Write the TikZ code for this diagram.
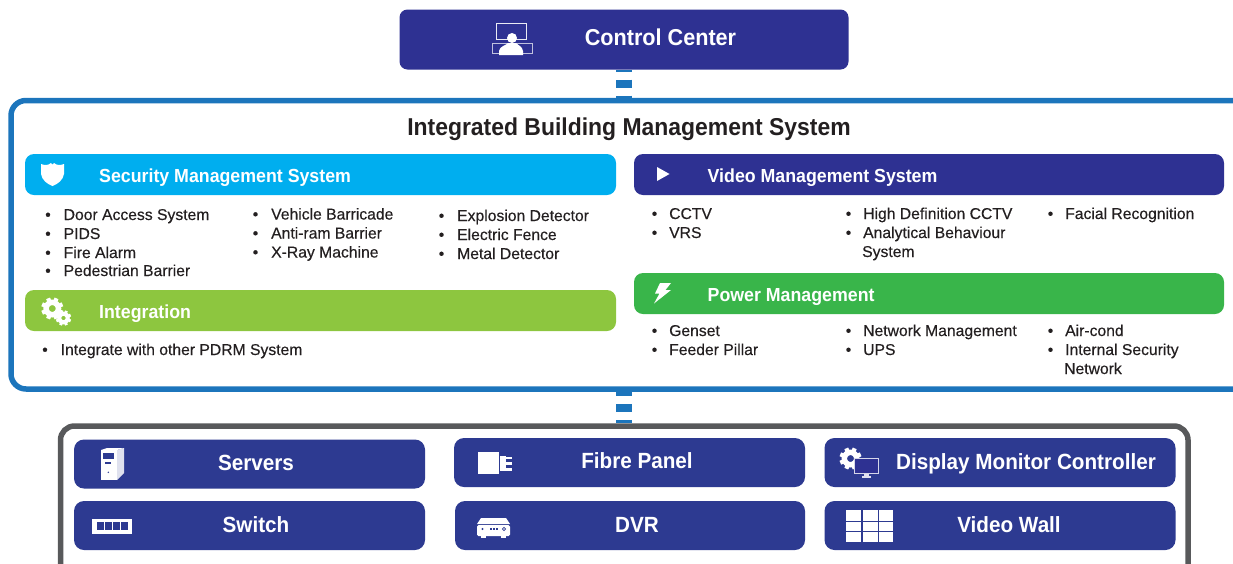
\documentclass[tikz,border=0pt]{standalone}
\usepackage{fontspec}
\setmainfont{Liberation Sans}
\newfontfamily\bodyf[FakeBold=0.35]{Liberation Sans}
\newfontfamily\headf[FakeStretch=0.94]{Liberation Sans Bold}
\definecolor{navy}{HTML}{2E3192}
\definecolor{navyb}{HTML}{2D3A91}
\definecolor{cyanbar}{HTML}{00AEEF}
\definecolor{limebar}{HTML}{8DC63F}
\definecolor{greenbar}{HTML}{39B54A}
\definecolor{ringblue}{HTML}{1C75BC}
\definecolor{ringgrey}{HTML}{58595B}
\definecolor{inkdark}{HTML}{231F20}
\tikzset{
  hbar/.style={rounded corners=9pt,inner sep=0pt,draw=none},
  dbox/.style={rounded corners=10pt,fill=navyb,inner sep=0pt},
  htext/.style={anchor=base west,inner sep=0pt,text=white,font=\headf\fontsize{18.9}{20}\selectfont},
  ctext/.style={anchor=base,inner sep=0pt,text=white,font=\headf\fontsize{22}{24}\selectfont},
  itemt/.style={anchor=base west,inner sep=0pt,text=inkdark,font=\bodyf\fontsize{15.7}{18}\selectfont},
  itemb/.style={anchor=base,inner sep=0pt,text=inkdark,font=\bodyf\fontsize{15.7}{18}\selectfont},
  dashlink/.style={draw=ringblue,line width=16pt,dash pattern=on 8pt off 8pt},
  gearpic/.pic={
    \draw[white,line width=0.55*\gearr pt] (0,0) circle ({0.62*\gearr});
    \foreach \a in {22.5,67.5,...,337.5}
      \draw[white,line width=0.42*\gearr pt] (\a:{0.7*\gearr}) -- (\a:{1.1*\gearr});
  }
}
\newcommand{\bulleted}[5]{%
  \node[itemb] (#1b) at (#2,#4) {•};
  \node[itemt] (#1) at (#3,#4) {#5};}
\begin{document}
\begin{tikzpicture}[x=1pt,y=-1pt]
\useasboundingbox (0,0) rectangle (1233,563);
\clip (0,0) rectangle (1233,563);
% control centre
\node[fill=navy,rounded corners=8pt,minimum width=449pt,minimum height=60pt,inner sep=0pt] (cc) at (624,39.5) {};
\node[anchor=base,inner sep=0pt,text=white,font=\headf\fontsize{23}{25}\selectfont] (cct) at (660.5,45.5) {Control Center};
% ibms frame (runs off the right edge)
\node[draw=ringblue,line width=5.5pt,rounded corners=15pt,minimum width=1260pt,minimum height=288.5pt,inner sep=0pt] (ibms) at (641,244.75) {};
\node[anchor=base,inner sep=0pt,text=inkdark,font=\headf\fontsize{24.4}{26}\selectfont] (ibmst) at (629,135) {Integrated Building Management System};
% hardware frame (runs off the bottom edge)
\node[draw=ringgrey,line width=5.5pt,rounded corners=14pt,minimum width=1127.5pt,minimum height=160pt,inner sep=0pt] (hw) at (624.25,506) {};
% connectors
\draw[dashlink,dash phase=6pt] (cc.south) -- (cc.south |- ibms.north);
\draw[dashlink,dash phase=4pt] (ibms.south -| cc.south) -- (hw.north -| cc.south);
% section bars
\node[hbar,fill=cyanbar,minimum width=591pt,minimum height=41pt] (sec) at (320.5,174.5) {};
\node[htext] (sect) at (99,182) {Security Management System};
\node[hbar,fill=limebar,minimum width=591pt,minimum height=41pt] (integ) at (320.5,310.5) {};
\node[htext] (integt) at (99,318) {Integration};
\node[hbar,fill=navy,minimum width=590pt,minimum height=41pt] (vid) at (929,174.5) {};
\node[htext] (vidt) at (707.5,182) {Video Management System};
\node[hbar,fill=greenbar,minimum width=590pt,minimum height=41pt] (pow) at (929,293.5) {};
\node[htext] (powt) at (707.5,301) {Power Management};
% security lists
\bulleted{a1}{48}{63.5}{220}{Door Access System}
\bulleted{a2}{48}{63.5}{239}{PIDS}
\bulleted{a3}{48}{63.5}{258}{Fire Alarm}
\bulleted{a4}{48}{63.5}{276}{Pedestrian Barrier}
\bulleted{b1}{255.5}{271}{219.5}{Vehicle Barricade}
\bulleted{b2}{255.5}{271}{238.5}{Anti-ram Barrier}
\bulleted{b3}{255.5}{271}{257.5}{X-Ray Machine}
\bulleted{c1}{441.5}{457}{221}{Explosion Detector}
\bulleted{c2}{441.5}{457}{240}{Electric Fence}
\bulleted{c3}{441.5}{457}{259}{Metal Detector}
\bulleted{d1}{45}{60.5}{355}{Integrate with other PDRM System}
% video lists
\bulleted{e1}{654.5}{669}{219}{CCTV}
\bulleted{e2}{654.5}{669}{238}{VRS}
\bulleted{f1}{848.5}{863}{219}{High Definition CCTV}
\bulleted{f2}{848.5}{863}{238}{Analytical Behaviour}
\node[itemt] (f3) at (862,257) {System};
\bulleted{g1}{1050.5}{1065}{219}{Facial Recognition}
% power lists
\bulleted{h1}{654.5}{669}{336}{Genset}
\bulleted{h2}{654.5}{669}{355}{Feeder Pillar}
\bulleted{i1}{848.5}{863}{336}{Network Management}
\bulleted{i2}{848.5}{863}{355}{UPS}
\bulleted{j1}{1050.5}{1065}{336}{Air-cond}
\bulleted{j2}{1050.5}{1065}{355}{Internal Security}
\node[itemt] (j3) at (1064,374) {Network};
% hardware boxes
\node[dbox,minimum width=351pt,minimum height=49pt] (srv) at (249.5,464) {};
\node[ctext] (srvt) at (256,470) {Servers};
\node[dbox,minimum width=351pt,minimum height=49pt] (fib) at (629.5,462.5) {};
\node[ctext] (fibt) at (637,468.5) {Fibre Panel};
\node[dbox,minimum width=351pt,minimum height=49pt] (dmc) at (1000,462.5) {};
\node[ctext] (dmct) at (1026,469.5) {Display Monitor Controller};
\node[dbox,minimum width=351pt,minimum height=49pt] (swi) at (249.5,525.5) {};
\node[ctext] (swit) at (256,532) {Switch};
\node[dbox,minimum width=350pt,minimum height=49pt] (dvr) at (630,525.5) {};
\node[ctext] (dvrt) at (637,532) {DVR};
\node[dbox,minimum width=351pt,minimum height=49pt] (vw) at (1000,525.5) {};
\node[ctext] (vwt) at (1009,532) {Video Wall};
% --- icons ---
% control centre icon
\draw[white!90!navy,line width=1pt] (496.5,23) rectangle (526.5,39);
\draw[white!70!navy,line width=1pt] (492,43) rectangle (532,53);
\fill[white] (512,38) circle (5);
\fill[white] (499,55) -- (499,51) .. controls (500,46) and (505,46) .. (508,43) -- (516,43) .. controls (519,46) and (522,46) .. (523,51) -- (523,55) -- cycle;
% shield
\fill[white] (41,164) .. controls (45,165.5) and (48,165.5) .. (51,163) -- (52.5,164.5) -- (54,163) .. controls (57,165.5) and (60,165.5) .. (64,164) -- (64,174) .. controls (63,180) and (58,184) .. (52.5,186) .. controls (47,184) and (42,180) .. (41,174) -- cycle;
% gears
\def\gearr{10}\pic at (52.3,308.5) {gearpic};
\def\gearr{7}\pic at (63.5,318) {gearpic};
% play
\fill[white] (657,167) -- (669.5,174) -- (657,181) -- cycle;
% bolt
\fill[white] (660,283) -- (671,283) -- (665.5,290) -- (671,290) -- (654,303.5) -- (659.5,293.5) -- (655,293.5) -- cycle;
% server
\fill[white] (101,450) -- (117,450) -- (117,480) -- (101,480) -- cycle;
\fill[white!85!navyb] (117,450) -- (124,448) -- (124,473) -- (117,480) -- cycle;
\fill[white] (101,450) -- (107,448) -- (124,448) -- (117,450) -- cycle;
\fill[navyb] (103,453) rectangle (114,459);
\fill[navyb] (105,462) rectangle (111,464);
\fill[navyb] (108.3,472.3) circle (0.8);
% fibre panel
\fill[white] (478,452) rectangle (499,474);
\fill[white] (500,456) rectangle (506,471);
\fill[white] (506,456.5) rectangle (512,459);
\fill[white] (506,462) rectangle (512,465);
\fill[white] (506,468) rectangle (512,470.5);
% display controller
\def\gearr{10}\pic at (850.5,458.5) {gearpic};
\fill[navy,draw=white!80!navy,line width=1pt] (854.5,458) rectangle (878.5,473);
\fill[white!85!navy] (864,474) rectangle (869,476);
\fill[white!85!navy] (862,476) rectangle (871,477.5);
% switch
\fill[white] (92,519) rectangle (132,534);
\foreach \k in {0,1,2,3}
  \fill[navyb] ({97+\k*8},522) rectangle ({104.2+\k*8},530);
% dvr
\fill[white] (481,518) -- (506,518) -- (510,524) -- (477,524) -- cycle;
\fill[white,rounded corners=1.5pt] (477,525) rectangle (510,536);
\fill[white] (481,536) rectangle (486,537.5);
\fill[white] (501,536) rectangle (506,537.5);
\fill[navyb] (482.5,529) circle (1.2);
\draw[navyb,line width=0.8pt] (504,529) circle (1.6);
\fill[navyb] (490,528.3) rectangle (491.6,529.8);
\fill[navyb] (493,528.3) rectangle (494.6,529.8);
\fill[navyb] (496,528.3) rectangle (497.6,529.8);
% video wall
\foreach \cx/\cw in {846/15.2,862.6/15.6,879.4/13.6} \foreach \cy/\ch in {510/10.6,521.7/9.5,532.3/9.7}
  \fill[white] (\cx,\cy) rectangle ({\cx+\cw},{\cy+\ch});
\end{tikzpicture}
\end{document}
